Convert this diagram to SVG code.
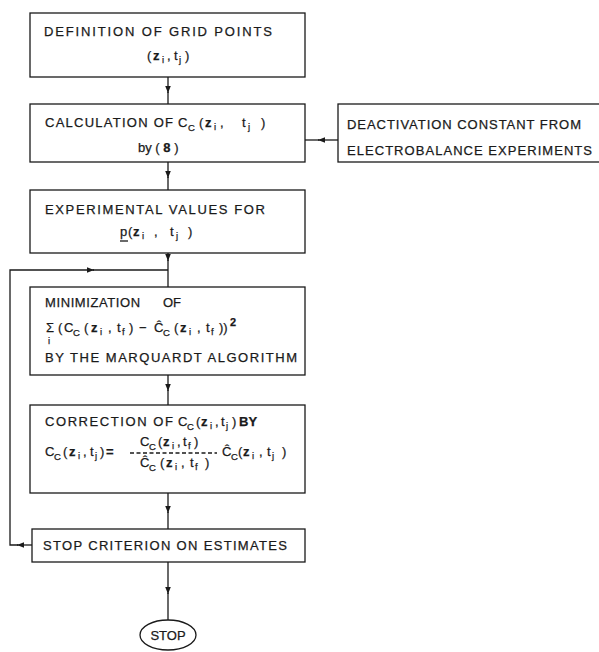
<svg xmlns="http://www.w3.org/2000/svg" width="599" height="652" viewBox="0 0 599 652">
<defs>
<marker id="ah" viewBox="0 0 10 10" refX="10" refY="5" markerWidth="7" markerHeight="7" orient="auto" markerUnits="userSpaceOnUse">
<path d="M0,1 L10,5 L0,9 Z" fill="#1a1a1a"/>
</marker>
<style>
.box{fill:#fff;stroke:#1a1a1a;stroke-width:1.3}
.ln{fill:none;stroke:#1a1a1a;stroke-width:1.3}
text{font-family:"Liberation Sans","DejaVu Sans",sans-serif;font-size:13px;fill:#1a1a1a;stroke:#1a1a1a;stroke-width:0.25}
.s{font-size:9.5px}
.b{font-weight:bold}
</style>
</defs>
<rect width="599" height="652" fill="#fff"/>

<g id="connectors">
<path class="ln" d="M168,77 V93" marker-end="url(#ah)"/><path class="ln" d="M168,92 V104"/>
<path class="ln" d="M338,140 H318" marker-end="url(#ah)"/><path class="ln" d="M319,140 H305"/>
<path class="ln" d="M168,162 V178" marker-end="url(#ah)"/><path class="ln" d="M168,177 V190"/>
<path class="ln" d="M168,253 V261" marker-end="url(#ah)"/><path class="ln" d="M168,260 V287"/>
<path class="ln" d="M168,375 V391" marker-end="url(#ah)"/><path class="ln" d="M168,390 V405"/>
<path class="ln" d="M168,493 V513" marker-end="url(#ah)"/><path class="ln" d="M168,512 V529"/>
<path class="ln" d="M168,562 V594" marker-end="url(#ah)"/><path class="ln" d="M168,593 V620"/>
<path class="ln" d="M32,545 H17" marker-end="url(#ah)"/><path class="ln" d="M18,545 H10 V270 H94" marker-end="url(#ah)"/><path class="ln" d="M93,270 H168"/>
</g>

<g id="n1">
<rect class="box" x="30" y="13" width="275" height="64"/>
<text x="44" y="36" textLength="228" lengthAdjust="spacing">DEFINITION  OF  GRID  POINTS</text>
<text y="60"><tspan x="147">(</tspan><tspan x="153" class="b">z</tspan><tspan x="162" y="63" class="s">i</tspan><tspan x="167" y="60">,</tspan><tspan x="174">t</tspan><tspan x="179" y="63" class="s">j</tspan><tspan x="185" y="60">)</tspan></text>
</g>

<g id="n2">
<rect class="box" x="30" y="104" width="275" height="58"/>
<text x="45" y="127" textLength="128" lengthAdjust="spacing">CALCULATION  OF</text>
<text y="127"><tspan x="178">C</tspan><tspan x="188" y="131" class="s">C</tspan><tspan x="199" y="127">(</tspan><tspan x="205" class="b">z</tspan><tspan x="214" y="130" class="s">i</tspan><tspan x="220" y="127">,</tspan><tspan x="242">t</tspan><tspan x="248" y="130" class="s">j</tspan><tspan x="261" y="127">)</tspan></text>
<text x="138" y="152">by ( <tspan class="b">8</tspan> )</text>
</g>

<g id="n_deact">
<rect class="box" x="338" y="104" width="270" height="58"/>
<text x="347" y="129" textLength="234" lengthAdjust="spacing">DEACTIVATION  CONSTANT  FROM</text>
<text x="347" y="155" textLength="245" lengthAdjust="spacing">ELECTROBALANCE  EXPERIMENTS</text>
</g>

<g id="n3">
<rect class="box" x="30" y="190" width="275" height="63"/>
<text x="45" y="214" textLength="220" lengthAdjust="spacing">EXPERIMENTAL  VALUES  FOR</text>
<text y="236"><tspan x="120">p</tspan><tspan x="128">(</tspan><tspan x="133" class="b">z</tspan><tspan x="142" y="239" class="s">i</tspan><tspan x="154" y="236">,</tspan><tspan x="170">t</tspan><tspan x="176" y="239" class="s">j</tspan><tspan x="188" y="236">)</tspan></text>
<path class="ln" d="M120,241 H128" stroke-width="1"/>
</g>

<g id="n4">
<rect class="box" x="30" y="287" width="275" height="88"/>
<text x="45" y="307" letter-spacing="0.6">MINIMIZATION</text>
<text x="163" y="307">OF</text>
<text y="332"><tspan x="46">Σ</tspan><tspan x="58">(</tspan><tspan x="64">C</tspan><tspan x="73" y="336" class="s">C</tspan><tspan x="84" y="332">(</tspan><tspan x="91" class="b">z</tspan><tspan x="100" y="335" class="s">i</tspan><tspan x="108" y="332">,</tspan><tspan x="117">t</tspan><tspan x="122" y="335" class="s">f</tspan><tspan x="129" y="332">)</tspan><tspan x="139">−</tspan><tspan x="154">Ĉ</tspan><tspan x="163" y="336" class="s">C</tspan><tspan x="174" y="332">(</tspan><tspan x="180" class="b">z</tspan><tspan x="189" y="335" class="s">i</tspan><tspan x="197" y="332">,</tspan><tspan x="206">t</tspan><tspan x="211" y="335" class="s">f</tspan><tspan x="219" y="332">))</tspan><tspan x="230" y="326" font-size="11" class="b">2</tspan></text>
<text x="48" y="344" class="s">i</text>
<text x="45" y="362" textLength="252" lengthAdjust="spacing">BY  THE  MARQUARDT  ALGORITHM</text>
</g>

<g id="n5">
<rect class="box" x="30" y="405" width="275" height="88"/>
<text x="45" y="426" textLength="128" lengthAdjust="spacing">CORRECTION  OF</text>
<text y="426"><tspan x="178">C</tspan><tspan x="187" y="430" class="s">C</tspan><tspan x="196" y="426">(</tspan><tspan x="201" class="b">z</tspan><tspan x="210" y="429" class="s">i</tspan><tspan x="215" y="426">,</tspan><tspan x="221">t</tspan><tspan x="226" y="429" class="s">j</tspan><tspan x="232" y="426">)</tspan><tspan x="239" class="b">BY</tspan></text>
<text y="456"><tspan x="45">C</tspan><tspan x="54" y="460" class="s">C</tspan><tspan x="63" y="456">(</tspan><tspan x="69" class="b">z</tspan><tspan x="78" y="459" class="s">i</tspan><tspan x="83" y="456">,</tspan><tspan x="90">t</tspan><tspan x="95" y="459" class="s">j</tspan><tspan x="100" y="456">)</tspan><tspan x="106" class="b">=</tspan></text>
<text y="446"><tspan x="140">C</tspan><tspan x="149" y="450" class="s">C</tspan><tspan x="158" y="446">(</tspan><tspan x="163" class="b">z</tspan><tspan x="172" y="449" class="s">i</tspan><tspan x="177" y="446">,</tspan><tspan x="183">t</tspan><tspan x="188" y="449" class="s">f</tspan><tspan x="194" y="446">)</tspan></text>
<path class="ln" d="M130,453 H217" stroke-width="1" stroke-dasharray="4,2.5"/>
<text y="467"><tspan x="140">Ĉ</tspan><tspan x="149" y="471" class="s">C</tspan><tspan x="160" y="467">(</tspan><tspan x="166" class="b">z</tspan><tspan x="175" y="470" class="s">i</tspan><tspan x="181" y="467">,</tspan><tspan x="190">t</tspan><tspan x="195" y="470" class="s">f</tspan><tspan x="205" y="467">)</tspan></text>
<text y="456"><tspan x="222">Ĉ</tspan><tspan x="231" y="460" class="s">C</tspan><tspan x="238" y="456">(</tspan><tspan x="243" class="b">z</tspan><tspan x="252" y="459" class="s">i</tspan><tspan x="259" y="456">,</tspan><tspan x="267">t</tspan><tspan x="272" y="459" class="s">j</tspan><tspan x="282" y="456">)</tspan></text>
</g>

<g id="n6">
<rect class="box" x="32" y="529" width="273" height="33"/>
<text x="43" y="550" textLength="244" lengthAdjust="spacing">STOP  CRITERION  ON  ESTIMATES</text>
</g>

<g id="n_stop">
<ellipse class="box" cx="168" cy="635" rx="28" ry="15"/>
<text x="168" y="640" text-anchor="middle">STOP</text>
</g>
</svg>
